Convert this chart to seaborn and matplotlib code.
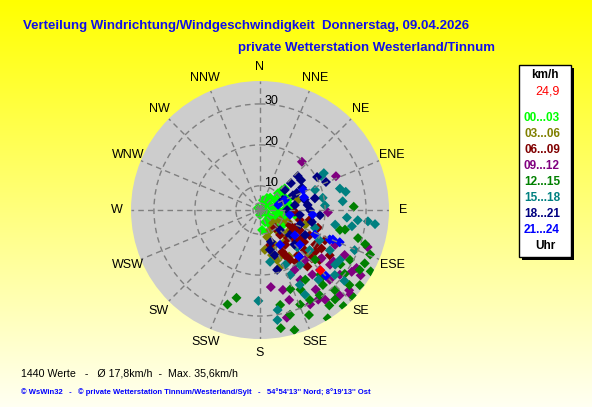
import numpy as np
import pandas as pd
import matplotlib
matplotlib.use('Agg')
import matplotlib.pyplot as plt
import seaborn as sns
from matplotlib.patches import Rectangle

# wind direction (deg, 0 = N, clockwise) and speed (km/h) per 3-hour block
dir_00_03 = [63, 63, 47, 56, 64, 81, 122, 124, 157, 160, 96, 123, 315, 17, 81, 100, 90, 146, 74, 108,
             180, 48, 70, 85, 110, 135, 40, 30, 108, 63, 80, 40, 45, 108, 135, 174, 68, 98, 49, 130, 117, 90, 60]
spd_00_03 = [4.6, 6.8, 10.1, 8.5, 10.9, 11.5, 6.4, 8.5, 7.3, 9.8, 9.0, 10.8, 4.8, 6.6, 7.1, 10.8, 11.9, 8.5, 8.7, 5.6,
             5.3, 11.3, 9.5, 7.8, 9.2, 7.0, 8.0, 7.5, 7.9, 9.6, 11.0, 7.9, 5.8, 10.4, 10.3, 9.0, 11.9, 12.7, 12.1, 7.9, 12.3, 10.0, 10.5]
dir_03_06 = [135, 117, 165, 157, 161, 75, 153, 135, 124, 157, 135, 113, 127, 153, 108, 132, 162, 145, 140,
             173, 165, 148, 128]
spd_03_06 = [8.6, 9.6, 10.9, 16.5, 17.0, 13.7, 15.9, 12.7, 12.9, 13.4, 16.2, 11.5, 16.3, 9.6, 15.7, 20.4, 19.0, 14.0, 11.0,
             13.9, 15.5, 17.5, 14.5]
dir_06_09 = [117, 117, 131, 117, 132, 144, 122, 104, 101, 130, 149, 141, 115, 140, 140, 140, 164, 93, 123, 152,
             107, 126, 135, 133, 117, 150, 145, 124, 124, 151, 127, 122, 145]
spd_06_09 = [12.3, 15.0, 15.3, 17.7, 18.8, 14.6, 20.0, 14.1, 16.5, 23.1, 18.3, 11.9, 21.6, 22.1, 18.5, 9.8, 13.0, 12.6, 24.4, 15.7,
             18.9, 17.4, 13.8, 21.4, 13.7, 17.5, 19.6, 13.6, 16.4, 16.7, 21.0, 21.8, 19.7]
dir_09_12 = [41, 66, 92, 109, 123, 121, 172, 166, 135, 135, 129, 145, 150, 118, 115, 144, 133, 152, 150, 128,
             162, 132, 124, 141, 164, 138, 125, 128, 147, 137]
spd_09_12 = [19.7, 24.4, 20.7, 31.9, 33.4, 31.6, 23.1, 31.2, 24.8, 28.2, 29.2, 27.8, 23.8, 27.5, 24.3, 31.2, 34.3, 30.2, 21.0, 23.2,
             27.2, 33.4, 31.1, 24.4, 24.4, 20.5, 26.0, 25.8, 30.2, 32.6]
dir_12_15 = [88, 104, 103, 117, 139, 170, 199, 195, 153, 145, 137, 130, 155, 148, 164, 121, 137, 147, 132, 124,
             112, 119, 164, 133, 168, 144, 151, 108, 106, 140, 127, 139, 140, 157, 119, 159, 127]
spd_12_15 = [27.0, 24.2, 25.4, 32.8, 35.2, 33.4, 28.5, 26.3, 25.9, 29.5, 30.9, 32.6, 32.4, 35.3, 30.7, 32.5, 25.7, 24.4, 22.2, 27.8,
             33.1, 35.0, 34.6, 35.4, 27.8, 32.9, 29.2, 31.1, 29.0, 28.0, 30.0, 26.5, 32.6, 29.2, 29.2, 24.8, 34.6]
dir_15_18 = [60, 61, 70, 75, 78, 84, 79, 86, 95, 96, 96, 100, 181, 170, 171, 129, 120, 117, 122, 144,
             140, 130, 155, 152, 113, 101, 97, 155, 169, 135, 126, 152, 113, 131, 108]
spd_15_18 = [22.1, 21.2, 18.4, 24.3, 25.5, 24.4, 19.7, 20.0, 25.4, 28.1, 30.6, 26.9, 26.3, 28.9, 31.3, 19.7, 23.8, 20.4, 27.1, 20.7,
             26.3, 31.0, 21.6, 27.5, 22.6, 22.8, 32.4, 18.8, 17.0, 17.0, 26.8, 24.8, 29.2, 28.3, 18.2]
dir_18_21 = [48, 54, 60, 67, 49, 65, 77, 90, 97, 103, 82, 51, 161, 164, 162, 130, 119, 78, 62, 95,
             90, 66, 166, 135, 110, 135, 84, 66]
spd_18_21 = [16.5, 16.5, 20.2, 21.6, 14.1, 14.0, 15.3, 16.3, 13.9, 17.1, 12.7, 11.9, 12.3, 19.3, 15.7, 13.6, 16.7, 17.8, 15.7, 18.8,
             10.7, 10.2, 14.1, 16.0, 14.5, 11.0, 15.8, 12.9]
dir_21_24 = [65, 74, 68, 99, 131, 113, 114, 135, 95, 150, 126, 112, 112, 74, 140]
spd_21_24 = [15.7, 15.3, 10.7, 11.5, 17.0, 22.6, 18.8, 26.8, 17.0, 13.9, 14.6, 25.1, 23.3, 8.7, 19.0]

# latest reading
dir_now = 135
spd_now = 24.9

hour_bins = ['00...03', '03...06', '06...09', '09...12', '12...15', '15...18', '18...21', '21...24']
bin_colors = ['#00ff00', '#808000', '#800000', '#800080', '#008000', '#008080', '#000080', '#0000ff']
directions = ['N', 'NNE', 'NE', 'ENE', 'E', 'ESE', 'SE', 'SSE',
              'S', 'SSW', 'SW', 'WSW', 'W', 'WNW', 'NW', 'NNW']
rings = [10, 20, 30]

groups = [(dir_00_03, spd_00_03), (dir_03_06, spd_03_06), (dir_06_09, spd_06_09), (dir_09_12, spd_09_12),
          (dir_12_15, spd_12_15), (dir_15_18, spd_15_18), (dir_18_21, spd_18_21), (dir_21_24, spd_21_24)]
frames = []
for label, (d, s) in zip(hour_bins, groups):
    frames.append(pd.DataFrame({'theta': np.deg2rad(d), 'speed': s, 'uhr': label}))
df = pd.concat(frames, ignore_index=True)

W, H = 592, 407
fig = plt.figure(figsize=(W / 100, H / 100), dpi=100)


def fx(x):
    return x / W


def fy(y):
    return 1 - y / H


# yellow background fading towards the bottom
bg = fig.add_axes([0, 0, 1, 1])
b = np.linspace(0.0, 0.95, H)[:, None]
img = np.dstack([np.ones_like(b), np.ones_like(b), b])
bg.imshow(img, aspect='auto', extent=[0, 1, 0, 1])
bg.axis('off')

# polar plot
ax = fig.add_axes([fx(131), fy(339), 258 / W, 258 / H], projection='polar')
ax.set_theta_zero_location('N')
ax.set_theta_direction(-1)
ax.set_facecolor('#cdcdcd')
ax.set_ylim(4.1, 35.6)
ax.set_rgrids([5.8] + rings, labels=[''] * 4)
ax.set_thetagrids(np.arange(0, 360, 22.5), labels=[''] * 16)
ax.grid(True, color='#7f7f7f', linestyle=(0, (4, 3)), linewidth=1)
ax.spines['polar'].set_visible(False)

sns.scatterplot(data=df, x='theta', y='speed', hue='uhr', palette=dict(zip(hour_bins, bin_colors)),
                marker='D', s=26, linewidth=0, legend=False, ax=ax)
ax.scatter(np.deg2rad(dir_now), spd_now, color='red', marker='D', s=26, linewidth=0, zorder=3)
ax.set_xlabel('')
ax.set_ylabel('')

lab_font = ['Liberation Sans', 'DejaVu Sans']
for i, name in enumerate(directions):
    ax.text(np.deg2rad(i * 22.5), 39.0, name, ha='center', va='center', fontsize=9,
            family=lab_font, clip_on=False)
for v in rings:
    ax.annotate(str(v), xy=(0, v), xytext=(3, 2), textcoords='offset points',
                ha='left', va='center', fontsize=9, family=lab_font)

# titles
fig.text(fx(23), fy(26), 'Verteilung Windrichtung/Windgeschwindigkeit  Donnerstag, 09.04.2026',
         color='#1010e8', fontsize=9.5, fontweight='bold', family=lab_font, ha='left', va='center')
fig.text(fx(238), fy(48), 'private Wetterstation Westerland/Tinnum',
         color='#1010e8', fontsize=9.5, fontweight='bold', family=lab_font, ha='left', va='center')

# footer
fig.text(fx(21), fy(373), '1440 Werte   -   Ø 17,8km/h  -  Max. 35,6km/h',
         color='black', fontsize=7.7, family=lab_font, ha='left', va='center')
fig.text(fx(21), fy(392),
         "© WsWin32   -   © private Wetterstation Tinnum/Westerland/Sylt   -   54°54'13'' Nord; 8°19'13'' Ost",
         color='#0000ff', fontsize=5.5, fontweight='bold', family=lab_font, ha='left', va='center')

# legend box
fig.add_artist(Rectangle((fx(522), fy(260)), 52 / W, 192 / H, transform=fig.transFigure,
                         facecolor='black', edgecolor='none'))
fig.add_artist(Rectangle((fx(519), fy(257)), 52 / W, 192 / H, transform=fig.transFigure,
                         facecolor='white', edgecolor='black', linewidth=1))
fig.text(fx(545), fy(75), 'km/h', fontsize=8.5, fontweight='bold', family=lab_font, ha='center', va='center')
fig.text(fx(560), fy(92), f'{spd_now:.1f}'.replace('.', ','), color='red', fontsize=9,
         family=lab_font, ha='right', va='center')
for i, (label, col) in enumerate(zip(hour_bins, bin_colors)):
    fig.text(fx(542), fy(118 + 16 * i), label, color=col, fontsize=8.5, fontweight='bold',
             family=lab_font, ha='center', va='center')
fig.text(fx(545), fy(246), 'Uhr', fontsize=8.5, fontweight='bold', family=lab_font, ha='center', va='center')

fig.savefig('out.png', dpi=100)
